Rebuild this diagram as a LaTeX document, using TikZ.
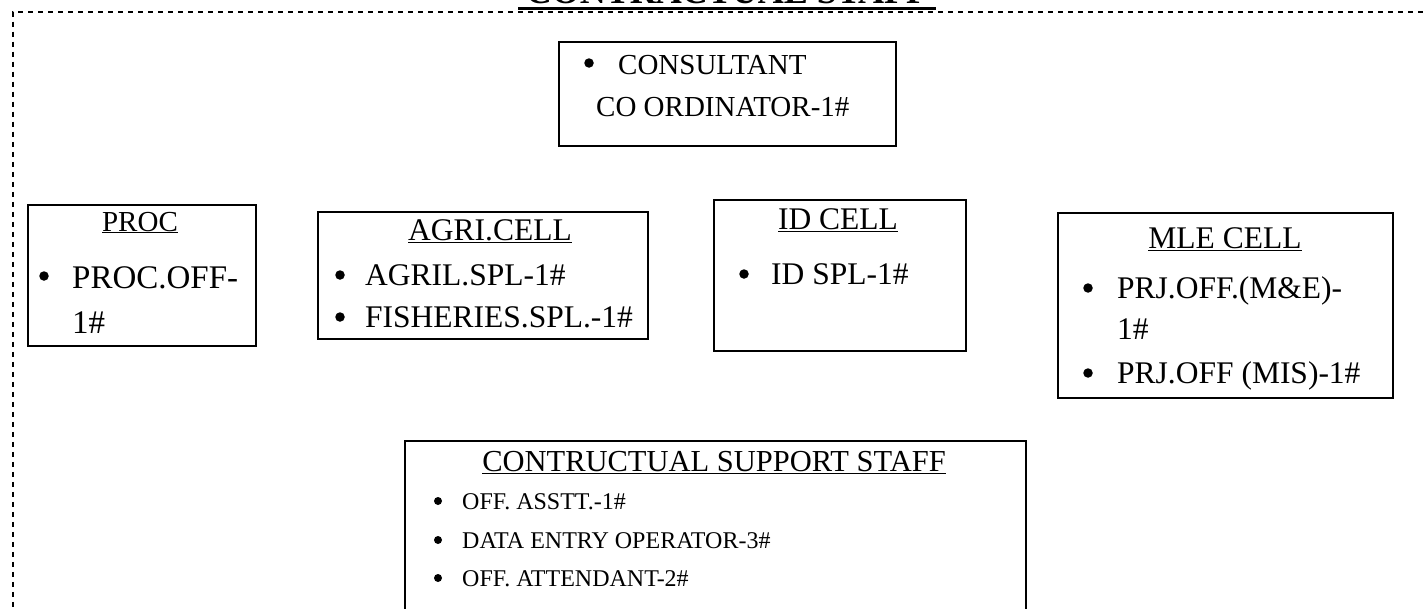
\documentclass[tikz,border=0pt]{standalone}
\usepackage{fontspec}
\setmainfont{Liberation Serif}
\begin{document}
\begin{tikzpicture}[x=1pt,y=-1pt,
  box/.style={draw, line width=1.7pt, inner sep=0pt},
  txt/.style={anchor=base west, inner sep=0pt},
  head/.style={anchor=base, inner sep=0pt},
  bul/.style={circle, fill, inner sep=0pt, minimum size=#1},
  bul/.default=9.5pt,
  big/.style={font=\fontsize{29}{34}\selectfont},
  bigger/.style={font=\fontsize{31.5}{36}\selectfont},
  small/.style={font=\fontsize{24}{28}\selectfont}]
\useasboundingbox (0,0) rectangle (1423,608);
\begin{scope}
\clip (0,0) rectangle (1423,608);
\node[draw, line width=1.5pt, dash pattern=on 5pt off 5pt, inner sep=0pt, minimum width=1440pt, minimum height=640pt, anchor=north west] (frame) at (12,11) {};
\node[head, font=\fontsize{36}{40}\bfseries\selectfont] (title) at (727,3) {CONTRACTUAL STAFF};
\coordinate (tl) at (518,8);
\coordinate (tr) at (936,8);
\draw[line width=3pt] (tl) -- (tr);
\end{scope}

% consultant
\node[box, anchor=north west, minimum width=337pt, minimum height=104pt] (cons) at (558,41) {};
\node[bul] (cb) at (589,63) {};
\node[txt, big] (c1) at (618,74) {CONSULTANT};
\node[txt, big] (c2) at (596,116) {CO ORDINATOR-1\#};

% PROC
\node[box, anchor=north west, minimum width=228pt, minimum height=141pt] (proc) at (27,204) {};
\node[head, big] (ph) at (140,231) {\underline{PROC}};
\node[bul] (pb) at (44,276) {};
\node[txt, font=\fontsize{33}{38}\selectfont] (p1) at (72,288) {PROC.OFF-};
\node[txt, font=\fontsize{33}{38}\selectfont] (p2) at (72,333) {1\#};

% AGRI
\node[box, anchor=north west, minimum width=330pt, minimum height=127pt] (agri) at (317,211) {};
\node[head, bigger] (ah) at (490,240) {\underline{AGRI.CELL}};
\node[bul] (ab1) at (340,275) {};
\node[txt, bigger] (a1) at (365,285) {AGRIL.SPL-1\#};
\node[bul] (ab2) at (340,317) {};
\node[txt, bigger] (a2) at (365,327) {FISHERIES.SPL.-1\#};

% ID
\node[box, anchor=north west, minimum width=252pt, minimum height=151pt] (id) at (713,199) {};
\node[head, bigger] (ih) at (838,229) {\underline{ID CELL}};
\node[bul] (ib) at (744,274) {};
\node[txt, bigger] (i1) at (771,284) {ID SPL-1\#};

% MLE
\node[box, anchor=north west, minimum width=335pt, minimum height=185pt] (mle) at (1057,212) {};
\node[head, bigger] (mh) at (1225,248) {\underline{MLE CELL}};
\node[bul] (mb1) at (1088,288) {};
\node[txt, bigger] (m1) at (1117,298) {PRJ.OFF.(M\&E)-};
\node[txt, bigger] (m2) at (1117,339) {1\#};
\node[bul] (mb2) at (1088,373) {};
\node[txt, bigger] (m3) at (1117,383) {PRJ.OFF (MIS)-1\#};

% support
\node[box, anchor=north west, minimum width=621pt, minimum height=200pt] (sup) at (404,440) {};
\node[head, font=\fontsize{30.5}{35}\selectfont] (sh) at (714,471) {\underline{CONTRUCTUAL SUPPORT STAFF}};
\node[bul=8pt] (sb1) at (438,501) {};
\node[txt, small] (s1) at (462,509) {OFF. ASSTT.-1\#};
\node[bul=8pt] (sb2) at (438,540) {};
\node[txt, small] (s2) at (462,548) {DATA ENTRY OPERATOR-3\#};
\node[bul=8pt] (sb3) at (438,578) {};
\node[txt, small] (s3) at (462,586) {OFF. ATTENDANT-2\#};
\end{tikzpicture}
\end{document}
